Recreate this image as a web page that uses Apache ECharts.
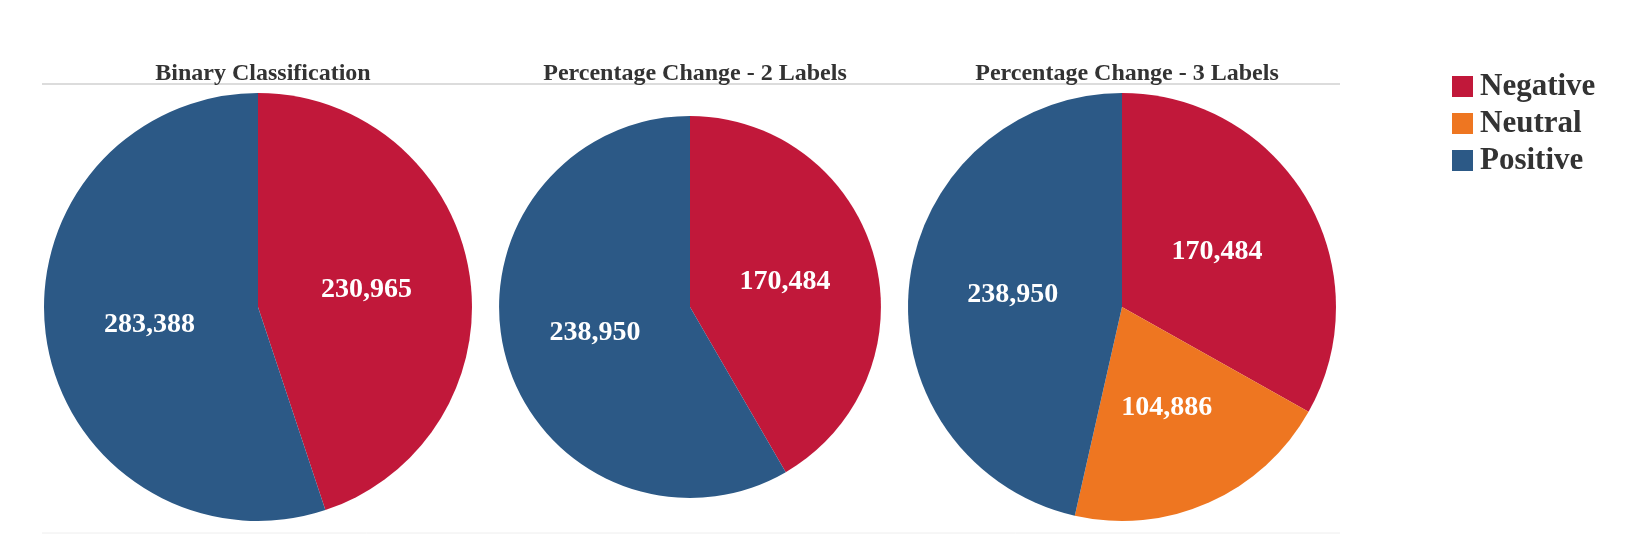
<!DOCTYPE html>
<html>
<head>
<meta charset="utf-8">
<script src="https://cdn.jsdelivr.net/npm/echarts@6/dist/echarts.min.js"></script>
<style>
html,body{margin:0;padding:0;background:#fff;}
#c{width:1648px;height:558px;}
</style>
</head>
<body>
<div id="c"></div>
<script>
const categories = ['Negative', 'Neutral', 'Positive'];
const chartTitles = ['Binary Classification', 'Percentage Change - 2 Labels', 'Percentage Change - 3 Labels'];
const binaryValues = [230965, null, 283388];
const pct2Values = [170484, null, 238950];
const pct3Values = [170484, 104886, 238950];

const colors = {Negative: '#C1183A', Neutral: '#EE7621', Positive: '#2C5986'};
const FONT = '"Liberation Serif", "Times New Roman", serif';

const allValues = [binaryValues, pct2Values, pct3Values];
const totals = allValues.map(v => v.reduce((s, x) => s + (x || 0), 0));
const maxTotal = Math.max(...totals);
const centersX = [258, 690, 1122];
const centerY = 307;
const maxR = 214;

const chart = echarts.init(document.getElementById('c'), null, {renderer: 'canvas'});

const series = allValues.map((vals, i) => ({
  type: 'pie',
  name: chartTitles[i],
  center: [centersX[i], centerY],
  radius: [0, maxR * Math.sqrt(totals[i] / maxTotal)],
  startAngle: 90,
  clockwise: true,
  animation: false,
  silent: true,
  label: {
    show: true,
    position: 'inside',
    color: '#fff',
    fontFamily: FONT,
    fontWeight: 'bold',
    fontSize: 28,
    formatter: p => p.value.toLocaleString('en-US')
  },
  labelLine: {show: false},
  itemStyle: {borderWidth: 0},
  data: categories.map((c, j) => ({name: c, value: vals[j], itemStyle: {color: colors[c]}}))
    .filter(d => d.value != null)
}));

chart.setOption({
  animation: false,
  backgroundColor: '#fff',
  title: chartTitles.map((t, i) => ({
    text: t,
    left: centersX[i],
    top: 57,
    textAlign: 'center',
    textStyle: {fontFamily: FONT, fontWeight: 'bold', fontSize: 24, color: '#333'}
  })),
  legend: {
    orient: 'vertical',
    left: 1447,
    top: 66,
    data: categories,
    icon: 'rect',
    itemWidth: 21,
    itemHeight: 21,
    itemGap: 6,
    selectedMode: false,
    textStyle: {fontFamily: FONT, fontWeight: 'bold', fontSize: 31, lineHeight: 31, color: '#333', padding: [0, 0, 0, 2]}
  },
  graphic: [
    {type: 'line', shape: {x1: 42, y1: 84, x2: 1340, y2: 84}, style: {stroke: '#dcdcdc', lineWidth: 2}, z: -1},
    {type: 'line', shape: {x1: 42, y1: 533, x2: 1340, y2: 533}, style: {stroke: '#eeeeee', lineWidth: 1}, z: -1}
  ],
  series: series
});
</script>
</body>
</html>
